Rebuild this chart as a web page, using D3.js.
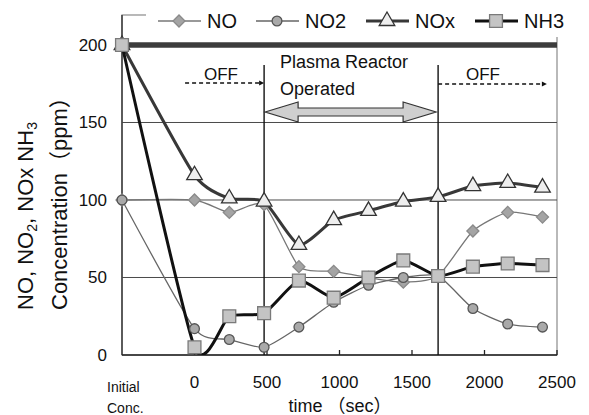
<!DOCTYPE html>
<html><head><meta charset="utf-8">
<script src="https://cdn.jsdelivr.net/npm/d3@7"></script>
<style>body{margin:0;background:#fff}</style>
</head><body><svg id="c" width="589" height="415"></svg>
<script>
// ---- data ----
const times = [-500, 0, 240, 480, 720, 960, 1200, 1440, 1680, 1920, 2160, 2400]; // -500 = "Initial Conc."
const noValues  = [100, 100, 92, 97, 57, 54, 50, 47, 51, 80, 92, 89];
const no2Values = [100, 17, 10, 5, 18, 34, 45, 50, 51, 30, 20, 18];
const noxValues = [200, 116, 101, 99, 71, 87, 93, 99, 102, 109, 111, 108];
const nh3Values = [200, 5, 25, 27, 48, 37, 50, 61, 51, 57, 59, 58];
const seriesNames = ["NO", "NO2", "NOx", "NH3"];
const yTicks = [0, 50, 100, 150, 200];
const xTicks = [0, 500, 1000, 1500, 2000, 2500];
const phaseTimes = [480, 1680];          // plasma reactor on / off
const offLeftSpan = [-65, 480];
const offRightSpan = [1680, 2430];

// ---- layout ----
const svg = d3.select("#c");
const L = 122, R = 557, T = 15, B = 355;
const x = d3.scaleLinear().domain([-500, 2500]).range([L, R]);
const y = d3.scaleLinear().domain([0, 219.35]).range([B, T]);
const FONT = "'Liberation Sans', Arial, 'Noto Sans CJK JP', sans-serif";

const series = [
  {name: seriesNames[0], values: noValues,  line: "#777", lw: 1.3, marker: "diamond", fill: "#a4a4a4", stroke: "#8a8a8a", size: 72},
  {name: seriesNames[1], values: no2Values, line: "#666", lw: 1.3, marker: "circle",  fill: "#a9a9a9", stroke: "#555",    size: 75},
  {name: seriesNames[2], values: noxValues, line: "#383838", lw: 3, marker: "triangle", fill: "#eeeeee", stroke: "#333", size: 105},
  {name: seriesNames[3], values: nh3Values, line: "#111", lw: 3, marker: "square",  fill: "#c4c4c4", stroke: "#7a7a7a", size: 165}
];
const symType = {diamond: d3.symbolSquare, circle: d3.symbolCircle, triangle: d3.symbolTriangle, square: d3.symbolSquare};
const symRot = {diamond: 45, circle: 0, triangle: 0, square: 0};

// frame
svg.append("rect").attr("x", L).attr("y", T).attr("width", R - L).attr("height", B - T)
  .attr("fill", "none").attr("stroke", "#8a8a8a").attr("stroke-width", 1.2);

// gridlines
svg.append("g").selectAll("line").data(yTicks.filter(d => d > 0 && d < 200)).join("line")
  .attr("x1", L).attr("x2", R).attr("y1", d => y(d)).attr("y2", d => y(d))
  .attr("stroke", "#4a4a4a").attr("stroke-width", 1);

// heavy 200 line
svg.append("line").attr("x1", L).attr("x2", R).attr("y1", y(200)).attr("y2", y(200))
  .attr("stroke", "#3c3c3c").attr("stroke-width", 5.5);

// axes lines
svg.append("line").attr("x1", L).attr("x2", L).attr("y1", T).attr("y2", B).attr("stroke", "#444").attr("stroke-width", 1.6);
svg.append("line").attr("x1", L).attr("x2", R).attr("y1", B).attr("y2", B).attr("stroke", "#222").attr("stroke-width", 1.6);

// x ticks (inward)
svg.append("g").selectAll("line").data(xTicks).join("line")
  .attr("x1", d => x(d)).attr("x2", d => x(d)).attr("y1", B).attr("y2", B - 5)
  .attr("stroke", "#222").attr("stroke-width", 1.3);

// phase vertical lines
svg.append("g").selectAll("line").data(phaseTimes).join("line")
  .attr("x1", d => x(d)).attr("x2", d => x(d)).attr("y1", 65).attr("y2", B)
  .attr("stroke", "#111").attr("stroke-width", 1.4);

// y tick labels
svg.append("g").selectAll("text").data(yTicks).join("text")
  .attr("x", 107).attr("y", d => y(d) + 6).attr("text-anchor", "end")
  .attr("font-family", FONT).attr("font-size", 17).attr("fill", "#111").text(d => d);

// x tick labels
svg.append("g").selectAll("text").data(xTicks).join("text")
  .attr("x", d => x(d)).attr("y", 388).attr("text-anchor", "middle")
  .attr("font-family", FONT).attr("font-size", 17).attr("fill", "#111").text(d => d);
svg.append("text").attr("x", 107).attr("y", 392).attr("font-family", FONT).attr("font-size", 14).attr("fill", "#111").text("Initial");
svg.append("text").attr("x", 107).attr("y", 413).attr("font-family", FONT).attr("font-size", 14).attr("fill", "#111").text("Conc.");

// axis titles
svg.append("text").attr("x", 340).attr("y", 412).attr("text-anchor", "middle")
  .attr("font-family", FONT).attr("font-size", 18).attr("fill", "#111").text("time （sec）");
const yt1 = svg.append("text").attr("transform", "translate(33,310) rotate(-90)")
  .attr("font-family", FONT).attr("font-size", 22).attr("fill", "#111");
yt1.append("tspan").text("NO, NO");
yt1.append("tspan").attr("font-size", 14).attr("dy", 4).text("2");
yt1.append("tspan").attr("dy", -4).text(", NOx NH");
yt1.append("tspan").attr("font-size", 14).attr("dy", 4).text("3");
svg.append("text").attr("transform", "translate(67,310) rotate(-90)")
  .attr("font-family", FONT).attr("font-size", 22).attr("fill", "#111").text("Concentration（ppm）");

// annotations
const dash = (x1, x2, yy) => {
  svg.append("line").attr("x1", x1).attr("x2", x2 - 3).attr("y1", yy).attr("y2", yy)
    .attr("stroke", "#111").attr("stroke-width", 1.3).attr("stroke-dasharray", "4,3");
  svg.append("path").attr("d", `M${x2},${yy} L${x2 - 5},${yy - 2.5} L${x2 - 5},${yy + 2.5} Z`).attr("fill", "#111");
};
dash(x(offLeftSpan[0]), x(offLeftSpan[1]), 83);
dash(x(offRightSpan[0]), x(offRightSpan[1]), 84);
svg.append("text").attr("x", 221).attr("y", 80).attr("text-anchor", "middle").attr("font-family", FONT).attr("font-size", 17).attr("fill", "#111").text("OFF");
svg.append("text").attr("x", 483).attr("y", 80).attr("text-anchor", "middle").attr("font-family", FONT).attr("font-size", 17).attr("fill", "#111").text("OFF");
svg.append("text").attr("x", 280).attr("y", 68).attr("font-family", FONT).attr("font-size", 18).attr("fill", "#111").text("Plasma Reactor");
svg.append("text").attr("x", 280).attr("y", 95).attr("font-family", FONT).attr("font-size", 18).attr("fill", "#111").text("Operated");

// double arrow
{
  const x1 = x(phaseTimes[0]) + 1, x2 = x(phaseTimes[1]) - 2, cy = 112, hl = 33, hh = 10, sh = 4;
  const pts = [[x1, cy], [x1 + hl, cy - hh], [x1 + hl, cy - sh], [x2 - hl, cy - sh], [x2 - hl, cy - hh], [x2, cy],
               [x2 - hl, cy + hh], [x2 - hl, cy + sh], [x1 + hl, cy + sh], [x1 + hl, cy + hh]];
  svg.append("path").attr("d", "M" + pts.map(p => p.join(",")).join("L") + "Z")
    .attr("fill", "#cfcfcf").attr("stroke", "#333").attr("stroke-width", 1.2);
}

// clip
svg.append("clipPath").attr("id", "clip").append("rect").attr("x", L).attr("y", T).attr("width", R - L).attr("height", B - T);

// lines
const lineGen = d3.line().x(d => x(d[0])).y(d => y(d[1])).curve(d3.curveCardinal.tension(0.4));
const gl = svg.append("g").attr("clip-path", "url(#clip)");
series.forEach(s => {
  gl.append("path").datum(times.map((t, i) => [t, s.values[i]]))
    .attr("d", lineGen).attr("fill", "none").attr("stroke", s.line).attr("stroke-width", s.lw)
    .attr("stroke-linejoin", "round");
});
// markers
series.forEach(s => {
  svg.append("g").selectAll("path").data(times.map((t, i) => [t, s.values[i]])).join("path")
    .attr("transform", d => `translate(${x(d[0])},${y(d[1])}) rotate(${symRot[s.marker]})`)
    .attr("d", d3.symbol().type(symType[s.marker]).size(s.size))
    .attr("fill", s.fill).attr("stroke", s.stroke).attr("stroke-width", 1.3);
});

// legend
svg.append("rect").attr("x", 146).attr("y", 0).attr("width", 420).attr("height", 37).attr("fill", "#fff");
const legX = [158, 256, 366, 475];
series.forEach((s, i) => {
  const g = svg.append("g").attr("transform", `translate(${legX[i]},21)`);
  g.append("line").attr("x1", 0).attr("x2", 43).attr("stroke", s.line).attr("stroke-width", s.lw);
  g.append("path").attr("transform", `translate(21,0) rotate(${symRot[s.marker]})`).attr("d", d3.symbol().type(symType[s.marker]).size(s.size))
    .attr("fill", s.fill).attr("stroke", s.stroke).attr("stroke-width", 1.3);
  g.append("text").attr("x", 49).attr("y", 7).attr("font-family", FONT).attr("font-size", 20).attr("fill", "#111").text(s.name);
});
</script></body></html>
